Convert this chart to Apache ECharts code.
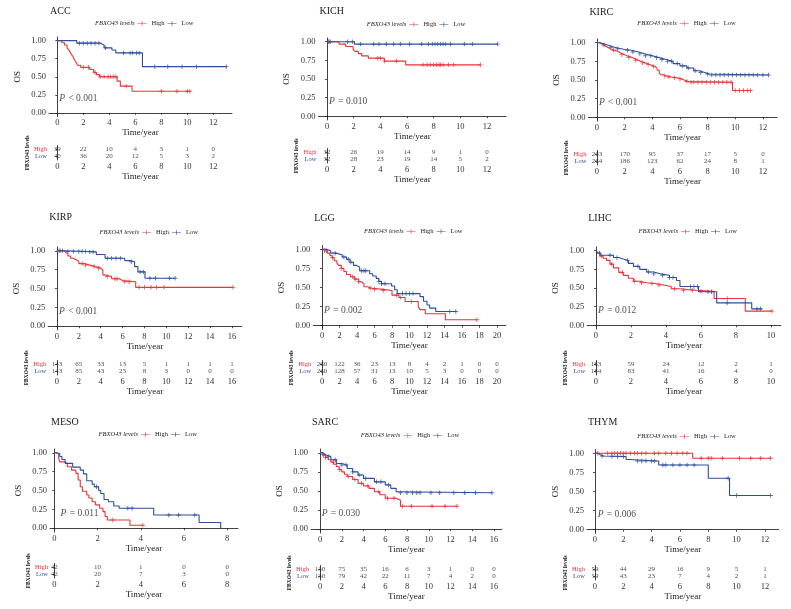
<!DOCTYPE html>
<html><head><meta charset="utf-8">
<script src="https://cdn.jsdelivr.net/npm/echarts@6/dist/echarts.min.js"></script>
<style>html,body{margin:0;background:#fff}#c{width:791px;height:609px}</style>
</head><body><div id="c"></div>
<script>
// ---------------- DATA ----------------
// KM curves: [time(year), survival]
const accHigh = [[0,1],[0.35,0.97],[0.55,0.94],[0.75,0.9],[0.9,0.87],[1.05,0.82],[1.2,0.78],[1.3,0.74],[1.45,0.7],[1.55,0.66],[1.8,0.63],[2.5,0.6],[2.8,0.56],[3.0,0.53],[3.25,0.5],[4.6,0.44],[4.85,0.37],[5.75,0.3],[10.2,0.3]];
const accHighC = [2.0,2.4,2.9,3.3,3.6,3.9,4.1,4.3,4.5,5.3,8.0,9.2,10.0,10.2];
const accLow = [[0,1],[1.5,0.965],[3.3,0.94],[3.6,0.9],[4.2,0.87],[4.5,0.83],[6.55,0.64],[13.0,0.64]];
const accLowC = [1.7,2.0,2.3,2.6,2.9,3.2,3.7,5.1,5.6,5.8,6.1,6.3,7.5,8.5,9.6,10.7,13.0];
const accRiskT = [0,2,4,6,8,10,12];
const accRiskHigh = [39,22,10,4,3,1,0];
const accRiskLow = [40,36,20,12,5,3,2];

const kichHigh = [[0,1],[0.9,0.968],[1.4,0.935],[1.95,0.9],[2.1,0.87],[2.35,0.84],[2.6,0.81],[3.1,0.78],[4.3,0.74],[5.9,0.69],[11.5,0.69]];
const kichHighC = [0.1,3.8,4.0,4.3,5.2,7.2,7.5,7.75,8.0,8.2,8.4,8.5,8.7,9.1,9.5,11.5];
const kichLow = [[0,1],[2.05,0.968],[12.8,0.968]];
const kichLowC = [0.15,0.25,1.55,1.9,2.5,3.5,3.9,4.45,5.0,5.5,6.2,7.1,7.6,7.9,8.1,8.3,8.5,8.7,8.9,9.25,10.3,10.9,12.8];
const kichRiskT = [0,2,4,6,8,10,12];
const kichRiskHigh = [32,26,19,14,9,1,0];
const kichRiskLow = [32,28,23,19,14,5,2];

const kircHigh = [[0,1],[0.2,0.98],[0.4,0.955],[0.6,0.935],[0.8,0.915],[1.0,0.9],[1.25,0.885],[1.5,0.86],[1.75,0.84],[2.0,0.82],[2.25,0.805],[2.5,0.785],[2.75,0.765],[3.0,0.745],[3.25,0.73],[3.5,0.71],[3.75,0.695],[4.0,0.68],[4.2,0.66],[4.35,0.63],[4.5,0.6],[4.6,0.57],[4.8,0.555],[5.0,0.54],[5.4,0.53],[5.8,0.515],[6.1,0.5],[6.3,0.48],[6.6,0.47],[9.8,0.36],[11.1,0.36]];
const kircHighC = [1.2,1.8,2.3,2.8,3.3,3.7,4.1,4.9,5.2,5.6,6.0,6.5,6.8,7.0,7.3,7.6,7.9,8.2,8.5,8.8,9.1,9.4,9.7,10.0,10.3,10.6,10.9,11.1];
const kircLow = [[0,1],[0.25,0.985],[0.5,0.97],[0.75,0.955],[1.0,0.94],[1.25,0.93],[1.5,0.92],[1.75,0.91],[2.0,0.9],[2.5,0.875],[3.0,0.85],[3.5,0.825],[4.0,0.8],[4.5,0.775],[5.0,0.75],[5.5,0.72],[6.0,0.69],[6.5,0.66],[7.0,0.625],[7.4,0.6],[7.8,0.58],[8.1,0.567],[12.4,0.567]];
const kircLowC = [0.5,1.0,1.5,2.2,2.6,3.1,3.5,3.9,4.3,4.7,5.1,5.4,5.8,6.2,6.6,7.1,7.5,8.0,8.3,8.6,8.9,9.2,9.5,9.8,10.1,10.4,10.7,11.0,11.3,11.6,12.0,12.4];
const kircRiskT = [0,2,4,6,8,10,12];
const kircRiskHigh = [263,170,95,37,17,5,0];
const kircRiskLow = [264,186,123,62,24,8,1];

const kirpHigh = [[0,1],[0.6,0.98],[0.8,0.96],[1.0,0.93],[1.25,0.9],[1.5,0.88],[1.75,0.86],[2.0,0.83],[2.5,0.81],[3.0,0.79],[3.5,0.77],[4.0,0.745],[4.2,0.68],[4.4,0.66],[5.0,0.63],[5.7,0.605],[6.0,0.59],[7.2,0.515],[16.1,0.515]];
const kirpHighC = [0.3,2.3,2.6,3.4,3.8,4.6,5.3,5.5,6.2,6.6,7.5,8.0,8.6,9.1,9.8,16.1];
const kirpLow = [[0,1],[0.7,0.99],[3.0,0.985],[3.6,0.95],[4.4,0.9],[6.2,0.87],[6.7,0.855],[7.1,0.79],[7.4,0.72],[8.05,0.635],[10.8,0.635]];
const kirpLowC = [0.2,0.5,1.0,1.5,2.0,2.3,2.6,3.0,3.3,4.6,5.0,5.4,5.8,6.8,7.6,7.9,8.5,9.0,10.3,10.8];
const kirpRiskT = [0,2,4,6,8,10,12,14,16];
const kirpRiskHigh = [143,65,33,13,5,1,1,1,1];
const kirpRiskLow = [143,85,43,23,8,3,0,0,0];

const lggHigh = [[0,1],[0.3,0.98],[0.6,0.95],[0.9,0.92],[1.15,0.89],[1.4,0.85],[1.7,0.82],[1.9,0.79],[2.2,0.75],[2.5,0.71],[2.8,0.67],[3.25,0.64],[3.7,0.61],[4.2,0.575],[4.5,0.55],[4.8,0.51],[5.2,0.49],[5.7,0.476],[7.0,0.46],[8.0,0.4],[8.8,0.37],[9.5,0.316],[11.0,0.25],[11.2,0.21],[11.8,0.156],[14.1,0.078],[17.7,0.078]];
const lggHighC = [0.3,1.2,2.2,3.5,3.8,4.2,5.5,6.0,7.0,8.5,9.0,10.2,17.7];
const lggLow = [[0,1],[0.5,0.98],[1.0,0.95],[1.6,0.93],[2.3,0.9],[2.8,0.87],[3.2,0.83],[3.6,0.79],[3.9,0.77],[4.3,0.72],[5.45,0.68],[5.8,0.65],[6.2,0.62],[6.5,0.58],[6.8,0.55],[7.95,0.52],[8.3,0.47],[8.6,0.42],[11.2,0.38],[11.6,0.32],[12.0,0.27],[12.3,0.23],[13.0,0.186],[15.3,0.186]];
const lggLowC = [0.5,1.5,2.5,3.0,3.3,4.5,4.8,5.0,6.5,6.8,7.2,9.2,9.6,10.0,10.4,14.6,15.3];
const lggRiskT = [0,2,4,6,8,10,12,14,16,18,20];
const lggRiskHigh = [260,122,36,23,13,8,4,2,1,0,0];
const lggRiskLow = [260,128,57,31,13,10,5,3,0,0,0];

const lihcHigh = [[0,1],[0.1,0.97],[0.23,0.93],[0.4,0.9],[0.6,0.87],[0.8,0.82],[1.0,0.77],[1.3,0.71],[1.56,0.67],[1.85,0.63],[2.14,0.59],[2.5,0.57],[2.9,0.56],[3.4,0.54],[3.85,0.52],[4.3,0.49],[4.8,0.47],[5.7,0.455],[6.75,0.36],[8.53,0.19],[10.06,0.19]];
const lihcHighC = [0.3,0.9,1.5,2.2,2.6,3.2,3.6,4.5,5.0,5.5,6.0,7.5,10.06];
const lihcLow = [[0,1],[0.1,0.97],[0.23,0.94],[1.0,0.91],[1.3,0.89],[1.56,0.87],[1.85,0.83],[2.14,0.79],[2.5,0.75],[2.9,0.715],[3.3,0.69],[3.66,0.67],[4.2,0.64],[4.6,0.6],[4.8,0.52],[5.86,0.45],[6.9,0.3],[8.9,0.22],[9.5,0.22]];
const lihcLowC = [0.2,0.8,1.2,1.8,2.4,3.0,3.3,3.8,4.2,4.4,5.4,5.6,5.8,6.4,6.6,7.5,9.2,9.4];
const lihcRiskT = [0,2,4,6,8,10];
const lihcRiskHigh = [183,59,24,12,2,1];
const lihcRiskLow = [184,83,41,16,4,0];

const mesoHigh = [[0,1],[0.1,0.98],[0.2,0.93],[0.25,0.88],[0.45,0.86],[0.6,0.815],[0.8,0.77],[1.0,0.727],[1.1,0.64],[1.2,0.55],[1.3,0.49],[1.5,0.44],[1.6,0.4],[1.75,0.35],[1.9,0.31],[2.1,0.265],[2.25,0.22],[2.35,0.155],[2.45,0.11],[3.5,0.04],[4.1,0.04]];
const mesoHighC = [2.7,4.1];
const mesoLow = [[0,1],[0.1,0.99],[0.25,0.95],[0.35,0.91],[0.5,0.86],[0.85,0.81],[1.2,0.77],[1.35,0.72],[1.5,0.63],[1.75,0.585],[1.85,0.55],[2.05,0.5],[2.15,0.46],[2.3,0.38],[2.5,0.35],[2.75,0.295],[3.0,0.265],[4.6,0.176],[6.7,0.075],[7.7,0.0]];
const mesoLowC = [1.95,3.4,3.6,5.3,5.75,6.5];
const mesoRiskT = [0,2,4,6,8];
const mesoRiskHigh = [42,10,1,0,0];
const mesoRiskLow = [42,20,7,3,0];

const sarcHigh = [[0,1],[0.25,0.97],[0.5,0.94],[0.75,0.91],[1.0,0.88],[1.25,0.85],[1.5,0.82],[1.75,0.78],[2.0,0.75],[2.25,0.72],[2.5,0.69],[3.0,0.65],[3.5,0.6],[4.0,0.565],[4.5,0.535],[5.0,0.49],[5.5,0.45],[6.0,0.405],[7.0,0.38],[7.4,0.3],[12.6,0.3]];
const sarcHighC = [0.5,1.2,1.8,2.6,3.2,3.8,4.4,5.4,6.2,6.8,7.6,8.4,10.3,11.5,12.6];
const sarcLow = [[0,1],[0.25,0.975],[0.5,0.95],[1.0,0.91],[1.5,0.86],[2.0,0.84],[2.5,0.795],[3.0,0.75],[3.5,0.71],[4.0,0.665],[5.0,0.62],[6.0,0.58],[6.5,0.535],[7.0,0.49],[7.3,0.478],[15.8,0.478]];
const sarcLowC = [0.3,0.8,1.4,2.0,2.4,3.0,3.6,4.2,5.2,5.6,6.3,7.4,8.0,8.5,8.9,9.2,10.2,11.0,12.3,13.3,14.3,15.8];
const sarcRiskT = [0,2,4,6,8,10,12,14,16];
const sarcRiskHigh = [130,75,35,16,6,3,1,0,0];
const sarcRiskLow = [130,79,42,22,11,7,4,2,0];

const thymHigh = [[0,1],[6.9,0.935],[12.4,0.935]];
const thymHighC = [0.2,0.9,1.2,1.4,1.6,1.8,2.0,2.2,2.5,2.8,3.0,3.3,3.6,4.2,4.5,5.0,5.4,5.8,6.2,6.5,7.5,8.0,8.2,9.0,10.2,11.0,11.7,12.4];
const thymLow = [[0,1],[0.2,0.985],[0.35,0.965],[0.6,0.957],[2.2,0.92],[2.4,0.9],[4.5,0.848],[8.0,0.674],[9.5,0.448],[12.4,0.448]];
const thymLowC = [0.5,1.2,1.6,2.0,3.0,3.3,3.6,4.0,4.2,4.8,5.0,5.5,6.0,6.5,7.0,9.4,10.0,12.4];
const thymRiskT = [0,2,4,6,8,10,12];
const thymRiskHigh = [59,44,29,16,9,5,1];
const thymRiskLow = [59,43,23,7,4,2,1];

const osTicks = [0,0.25,0.5,0.75,1];
const groups = ['Low','High'];
const pValues = {ACC:'< 0.001',KICH:'= 0.010',KIRC:'< 0.001',KIRP:'< 0.001',LGG:'= 0.002',LIHC:'= 0.012',MESO:'= 0.011',SARC:'= 0.030',THYM:'= 0.006'};

// ---------------- LAYOUT ----------------
const panels = [
 {name:'ACC', h:accHigh,hc:accHighC,l:accLow,lc:accLowC,rt:accRiskT,rh:accRiskHigh,rl:accRiskLow,
  b:{left:49,width:183,top:37,height:79.5,tb:160,xmin:-0.64,xmax:13.44,ty:12,ly:24}},
 {name:'KICH', h:kichHigh,hc:kichHighC,l:kichLow,lc:kichLowC,rt:kichRiskT,rh:kichRiskHigh,rl:kichRiskLow,
  b:{left:318.5,width:187.7,top:38,height:82,tb:163,xmin:-0.64,xmax:13.44,ty:12,ly:25}},
 {name:'KIRC', h:kircHigh,hc:kircHighC,l:kircLow,lc:kircLowC,rt:kircRiskT,rh:kircRiskHigh,rl:kircRiskLow,
  b:{left:588.4,width:188.6,top:39,height:82,tb:165,xmin:-0.62,xmax:13.02,ty:13,ly:24}},
 {name:'KIRP', h:kirpHigh,hc:kirpHighC,l:kirpLow,lc:kirpLowC,rt:kirpRiskT,rh:kirpRiskHigh,rl:kirpRiskLow,
  b:{left:48.2,width:193.6,top:247,height:83,tb:375,xmin:-0.8,xmax:16.9,ty:218,ly:233}},
 {name:'LGG', h:lggHigh,hc:lggHighC,l:lggLow,lc:lggLowC,rt:lggRiskT,rh:lggRiskHigh,rl:lggRiskLow,
  b:{left:313.25,width:192.5,top:245.5,height:84,tb:375,xmin:-1,xmax:21,ty:219,ly:232}},
 {name:'LIHC', h:lihcHigh,hc:lihcHighC,l:lihcLow,lc:lihcLowC,rt:lihcRiskT,rh:lihcRiskHigh,rl:lihcRiskLow,
  b:{left:587.25,width:193.5,top:247,height:82,tb:375,xmin:-0.5,xmax:10.56,ty:219,ly:232}},
 {name:'MESO', h:mesoHigh,hc:mesoHighC,l:mesoLow,lc:mesoLowC,rt:mesoRiskT,rh:mesoRiskHigh,rl:mesoRiskLow,
  b:{left:50,width:188,top:449,height:83,tb:578,xmin:-0.2,xmax:8.5,ty:423,ly:435}},
 {name:'SARC', h:sarcHigh,hc:sarcHighC,l:sarcLow,lc:sarcLowC,rt:sarcRiskT,rh:sarcRiskHigh,rl:sarcRiskLow,
  b:{left:311,width:190.6,top:449,height:84,tb:580,xmin:-0.83,xmax:16.7,ty:423,ly:436}},
 {name:'THYM', h:thymHigh,hc:thymHighC,l:thymLow,lc:thymLowC,rt:thymRiskT,rh:thymRiskHigh,rl:thymRiskLow,
  b:{left:587,width:191.7,top:449.5,height:84,tb:580,xmin:-0.56,xmax:12.97,ty:423,ly:437}}
];

const RED = '#E8333A', BLUE = '#2D4E9E';
const FONT = 'Liberation Serif';
const plusSym = 'path://M4,0H6V10H4Z M0,4H10V6H0Z';
const legendIcon = 'path://M0,4.4H20V5.6H0Z M9.3,0H10.7V10H9.3Z';
const TBL_H = 14.5;

function survAt(curve, t){ let s = curve[0][1]; for (const p of curve){ if (p[0] <= t) s = p[1]; else break; } return s; }

const grid=[], xAxis=[], yAxis=[], series=[], legend=[], title=[];
series.push({type:'line', name:'FBXO43 levels', data:[], xAxisIndex:0, yAxisIndex:0});

function mkX(gi, b, ticks){
  return {type:'value', gridIndex:gi, min:b.xmin, max:b.xmax, splitLine:{show:false},
    axisLine:{lineStyle:{color:'#111', width:0.8}},
    axisTick:{customValues:ticks, length:2, lineStyle:{color:'#222', width:0.8}},
    axisLabel:{customValues:ticks, formatter:v=>String(Math.round(v)), fontSize:8.5, margin:2, color:'#333', fontFamily:FONT},
    name:'Time/year', nameLocation:'middle', nameGap:10, nameTextStyle:{fontSize:9, fontFamily:FONT, color:'#222'}};
}

panels.forEach((p,i)=>{
  const b = p.b, g = 2*i, gt = 2*i+1;
  grid.push({left:b.left, top:b.top, width:b.width, height:b.height});
  grid.push({left:b.left, top:b.tb-TBL_H, width:b.width, height:TBL_H});
  xAxis.push(mkX(g,b,p.rt));
  xAxis.push(mkX(gt,b,p.rt));
  yAxis.push({type:'value', gridIndex:g, min:-0.05, max:1.05, splitLine:{show:false},
    axisLine:{show:true, lineStyle:{color:'#111', width:0.8}},
    axisTick:{show:true, customValues:osTicks, length:2, lineStyle:{color:'#222', width:0.8}},
    axisLabel:{customValues:osTicks, formatter:v=>v.toFixed(2), fontSize:8.5, margin:3, color:'#333', fontFamily:FONT},
    name:'OS', nameLocation:'middle', nameRotate:90, nameGap:27, nameTextStyle:{fontSize:9, fontFamily:FONT, color:'#222'}});
  yAxis.push({type:'category', gridIndex:gt, data:groups, splitLine:{show:false},
    axisLine:{show:true, lineStyle:{color:'#111', width:0.8}},
    axisTick:{show:true, alignWithLabel:true, interval:0, length:2, lineStyle:{color:'#222', width:0.8}},
    axisLabel:{interval:0, hideOverlap:false, margin:2, fontSize:6.5, fontFamily:FONT,
      color:v=>v==='High'?RED:BLUE},
    name:'FBXO43 levels', nameLocation:'middle', nameRotate:90, nameGap:17,
    nameTextStyle:{fontSize:5.5, fontWeight:'bold', fontFamily:FONT, color:'#222'}});

  [['High',p.h,p.hc,RED],['Low',p.l,p.lc,BLUE]].forEach(([nm,curve,cens,col])=>{
    series.push({type:'line', name:nm, step:'end', data:curve, xAxisIndex:g, yAxisIndex:g,
      showSymbol:false, symbol:'none', lineStyle:{color:col, width:1.1}, itemStyle:{color:col}, silent:true});
    series.push({type:'scatter', name:nm+' censored', data:cens.map(t=>[t, survAt(curve,t)]), xAxisIndex:g, yAxisIndex:g,
      symbol:plusSym, symbolSize:4.5, itemStyle:{color:col}, silent:true});
  });
  [['High',p.rh],['Low',p.rl]].forEach(([nm,vals])=>{
    series.push({type:'scatter', name:nm+' at risk', xAxisIndex:gt, yAxisIndex:gt, symbolSize:0, silent:true,
      data:p.rt.map((t,k)=>[t, nm, vals[k]]),
      label:{show:true, position:'inside', formatter:d=>String(d.value[2]), fontSize:7, color:'#222', fontFamily:FONT}});
  });
  series.push({type:'scatter', name:'p '+p.name, xAxisIndex:g, yAxisIndex:g, symbolSize:0, silent:true,
    data:[[b.xmin + (b.xmax-b.xmin)*0.056, 0.2]],
    label:{show:true, position:'right', distance:0, formatter:'{i|P} {n|'+pValues[p.name]+'}',
      rich:{i:{fontStyle:'italic', fontSize:9.5, fontFamily:FONT, color:'#222'}, n:{fontSize:9.5, fontFamily:FONT, color:'#222'}}}});

  const cx = b.left + b.width/2;
  legend.push({left:cx-59.5, top:b.ly-4, orient:'horizontal', itemWidth:9, itemHeight:5, itemGap:3, padding:0,
    selectedMode:false, textStyle:{fontSize:6.5, fontFamily:FONT, color:'#222'},
    data:[{name:'FBXO43 levels', icon:'none', textStyle:{fontStyle:'italic'}}, {name:'High', icon:legendIcon}, {name:'Low', icon:legendIcon}]});
  title.push({text:p.name, left:b.left+1, top:b.ty-5.5, padding:0,
    textStyle:{fontSize:10, fontWeight:'normal', fontFamily:FONT, color:'#222'}});
});

const chart = echarts.init(document.getElementById('c'));
chart.setOption({animation:false, backgroundColor:'#fff', grid, xAxis, yAxis, series, legend, title});
</script></body></html>
